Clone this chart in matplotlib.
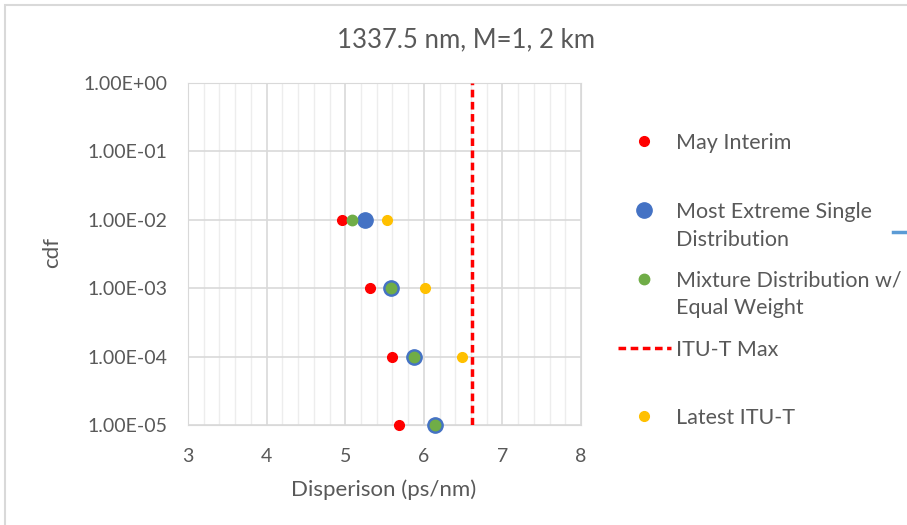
import matplotlib
matplotlib.use("Agg")
import matplotlib.pyplot as plt
from matplotlib.lines import Line2D
from matplotlib.patches import Rectangle
from matplotlib.ticker import FixedLocator, FuncFormatter, MultipleLocator

plt.rcParams['font.family'] = ['Lato', 'DejaVu Sans']

# data
cdf_levels = [1e-2, 1e-3, 1e-4, 1e-5]
may_interim = [4.96, 5.32, 5.60, 5.68]
most_extreme = [5.25, 5.58, 5.87, 6.14]
mixture_eq = [5.08, 5.58, 5.87, 6.14]
latest_cdf = [1e-2, 1e-3, 1e-4]
latest_itu = [5.53, 6.01, 6.48]
itu_max = 6.61

y_ticks = [1e0, 1e-1, 1e-2, 1e-3, 1e-4, 1e-5]
x_ticks = [3, 4, 5, 6, 7, 8]

txt = '#595959'
red = '#FF0000'
blue = '#4472C4'
green = '#70AD47'
gold = '#FFC000'

W, H = 907, 525
def fx(px):
    return px / W
def fy(py):
    return 1 - py / H

fig = plt.figure(figsize=(9.07, 5.25), dpi=100)
ax = fig.add_axes([0.2073, 0.1905, 0.4333, 0.652])

ax.set_yscale('log')
ax.set_xlim(3, 8)
ax.set_ylim(1e-5, 1)

ax.plot(may_interim, cdf_levels, 'o', color=red, ms=7, zorder=4, clip_on=False)
ax.plot(most_extreme, cdf_levels, 'o', color=blue, ms=11, zorder=4, clip_on=False)
ax.plot(mixture_eq, cdf_levels, 'o', color=green, ms=7.5, zorder=5, clip_on=False)
ax.plot([itu_max, itu_max], [1e-5, 1], color=red, lw=2.5, ls=(0, (2.2, 1.3)), zorder=3)
ax.plot(latest_itu, latest_cdf, 'o', color=gold, ms=7, zorder=4, clip_on=False)

ax.xaxis.set_major_locator(FixedLocator(x_ticks))
ax.xaxis.set_minor_locator(MultipleLocator(0.2))
ax.yaxis.set_major_locator(FixedLocator(y_ticks))
ax.yaxis.set_minor_locator(FixedLocator([]))
ax.yaxis.set_major_formatter(FuncFormatter(lambda v, p: '%.2E' % v))
ax.grid(which='major', color='#D9D9D9', lw=1.2)
ax.grid(which='minor', axis='x', color='#EDEDED', lw=1)
ax.set_axisbelow(True)
for s in ax.spines.values():
    s.set_color('#D9D9D9')
ax.tick_params(which='both', length=0, labelsize=14, colors=txt)
ax.tick_params(axis='y', pad=15)
ax.tick_params(axis='x', pad=16.5)

fig.text(fx(384), fy(490), 'Disperison (ps/nm)', fontsize=16, color=txt, ha='center', va='center')
fig.text(fx(52), fy(253), 'cdf', fontsize=16, color=txt, ha='center', va='center', rotation=90)
fig.text(fx(466), fy(40), '1337.5 nm, M=1, 2 km', fontsize=18.5, color=txt, ha='center', va='center')

# legend drawn by hand, Excel style uneven spacing
legend_marks = [
    ('o', red, 7, 141),
    ('o', blue, 11, 210),
    ('o', green, 7.5, 279),
    ('--', red, 0, 348),
    ('o', gold, 7, 416),
]
legend_lines = [
    ('May Interim', 141),
    ('Most Extreme Single', 210),
    ('Distribution', 238),
    ('Mixture Distribution w/', 279),
    ('Equal Weight', 307),
    ('ITU-T Max', 348),
    ('Latest ITU-T', 416),
]
for mk, col, size, py in legend_marks:
    if mk == 'o':
        fig.add_artist(Line2D([fx(644)], [fy(py)], marker='o', color=col, ms=size,
                              ls='none', transform=fig.transFigure))
    else:
        fig.add_artist(Line2D([fx(618), fx(671)], [fy(py), fy(py)], color=col, lw=2.5,
                              ls=(0, (2.2, 1.3)), transform=fig.transFigure))
for label, py in legend_lines:
    fig.text(fx(676), fy(py + 7.5), label, fontsize=15.5, color=txt, ha='left', va='baseline')

# stray blue stub at the right edge
fig.add_artist(Line2D([fx(893), fx(907)], [fy(232), fy(232)], color='#5B9BD5', lw=2.5,
                      transform=fig.transFigure))

# chart frame
fig.add_artist(Rectangle((fx(5), fy(600)), 1.2, fy(5) - fy(600), fill=False,
                         ec='#D9D9D9', lw=1.5, transform=fig.transFigure))

fig.savefig('out.png', dpi=100)
